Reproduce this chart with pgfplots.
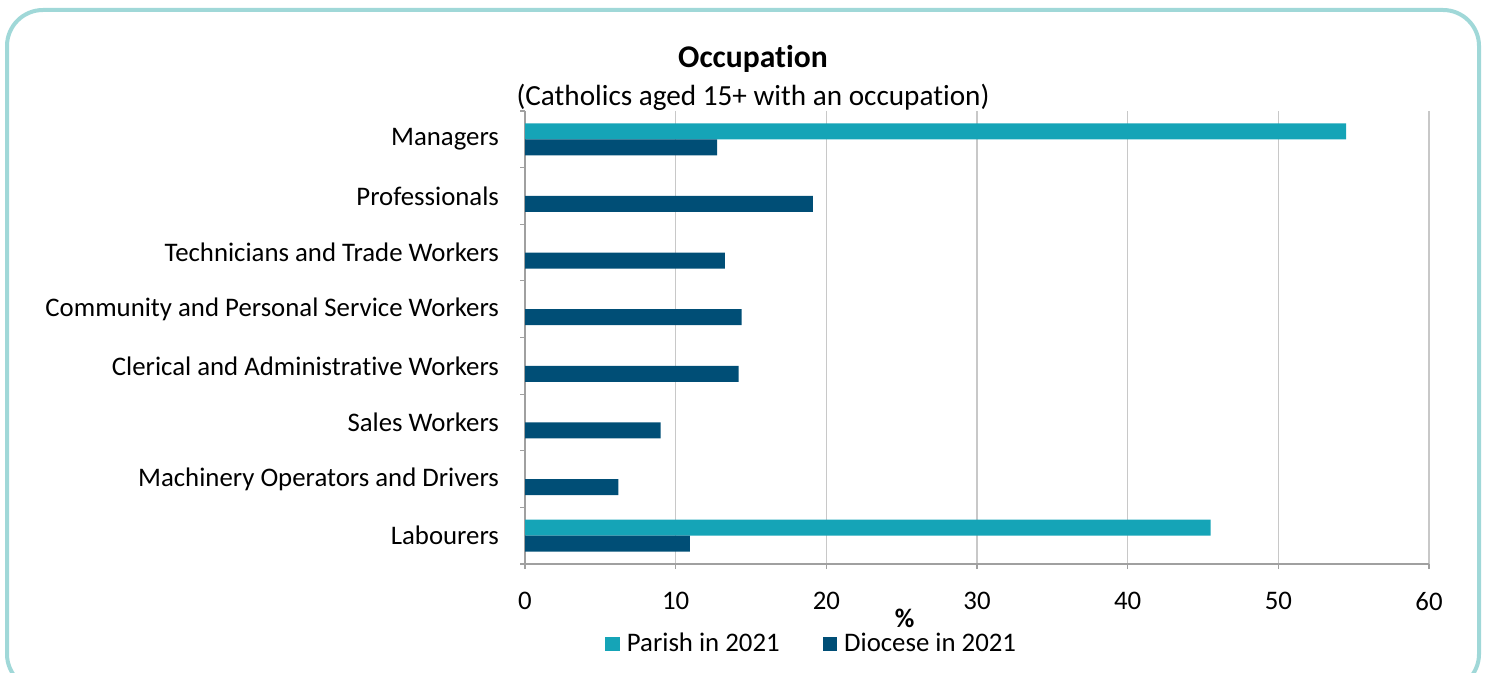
\documentclass[border=0pt]{standalone}
\usepackage{pgfplots}
\pgfplotsset{compat=1.18}
\usepackage{fontspec}
\setmainfont{Carlito}[Ligatures=CommonOff]
\definecolor{parish}{RGB}{21,164,183}
\definecolor{diocese}{RGB}{0,78,118}
\definecolor{frame}{RGB}{160,216,216}
\definecolor{gridc}{RGB}{200,200,200}
\definecolor{axc}{RGB}{160,160,160}
\begin{document}
\begin{tikzpicture}[x=1pt,y=1pt]
\path[use as bounding box] (0,0) rectangle (743,-336.5);
\draw[frame, line width=2pt, rounded corners=18pt] (3.5,-5) rectangle (739.5,-345);
\begin{axis}[
  at={(262.5pt,-282pt)}, anchor=south west,
  scale only axis, width=452pt, height=226.5pt,
  xbar, bar width=0.283,
  xmin=0, xmax=60, ymin=-0.5, ymax=7.5, y dir=reverse,
  xtick={0,10,...,60},
  ytick={0,...,7},
  yticklabels={Managers,Professionals,Technicians and Trade Workers,Community and Personal Service Workers,Clerical and Administrative Workers,Sales Workers,Machinery Operators and Drivers,Labourers},
  minor ytick={-0.5,0.5,...,7.5},
  axis x line*=bottom, axis y line*=left,
  axis line style={axc, line width=0.6pt, -},
  xmajorgrids, major grid style={gridc, line width=0.6pt},
  tick align=outside,
  major tick length=2.5pt, minor tick length=2.5pt,
  major y tick style={draw=none},
  minor y tick style={draw=axc, line width=0.6pt},
  xtick style={draw=axc, line width=0.6pt},
  /pgf/number format/assume math mode=true,
  tick label style={font=\fontsize{13.4}{16}\selectfont, text=black},
  xticklabel style={yshift=-8pt},
  yticklabel style={xshift=-7pt},
  xlabel={\textbf{\%}},
  xlabel style={at={(axis description cs:0.42,-0.119)}, anchor=center, inner sep=0pt, font=\fontsize{13.4}{16}\selectfont},
  legend columns=2,
  legend style={draw=none, fill=none, at={(axis description cs:0.32,-0.176)}, anchor=center, font=\fontsize{13.4}{16}\selectfont, nodes={inner ysep=0pt, inner xsep=3.5pt}, /tikz/every even column/.append style={column sep=18pt}},
  legend image code/.code={\fill[#1] (0pt,-3.6pt) rectangle (7.2pt,3.6pt);},
  clip=false,
]
\addplot[fill=parish, draw=none, bar shift=-0.1415] coordinates {(54.5,0) (45.5,7)};
\addplot[fill=diocese, draw=none, bar shift=0.1415] coordinates {(12.75,0) (19.1,1) (13.27,2) (14.38,3) (14.18,4) (9.0,5) (6.2,6) (10.95,7)};
\legend{Parish in 2021, Diocese in 2021}
\end{axis}
\node[font=\fontsize{15.8}{18}\bfseries] at (376.5,-29.5) {Occupation};
\node[font=\fontsize{14.6}{17}\selectfont] at (376.5,-48.5) {(Catholics aged 15+ with an occupation)};
\end{tikzpicture}
\end{document}
